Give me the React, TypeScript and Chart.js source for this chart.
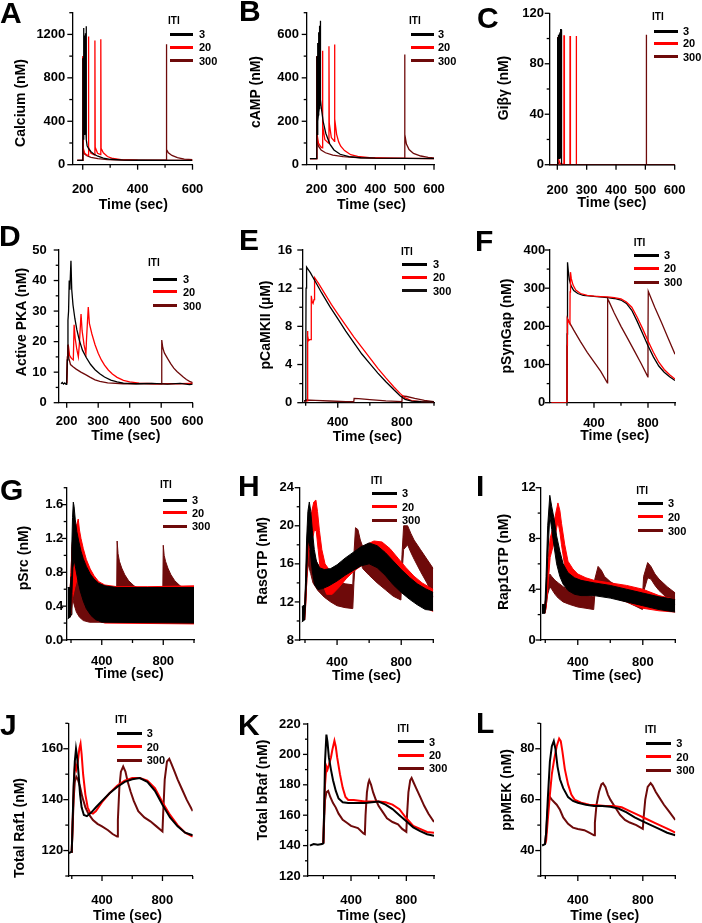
import React, { useEffect, useRef } from 'react';
import { Chart, registerables } from 'chart.js';
Chart.register(...registerables);

type Pt = [number, number];

const C3 = '#000000';
const C20 = '#ff0000';
const C300 = '#6e0a0a';
const FONT = '"Liberation Sans", Arial, Helvetica, sans-serif';

const itiLabels = ['3', '20', '300'];

// ---------- tick values / labels ----------
const timeTicksShort = [200, 300, 400, 500, 600];
const timeLabelsA = [200, 400, 600];
const timeLabelsShort = [200, 300, 400, 500, 600];
const timeTicksLong = [200, 400, 600, 800, 1000];
const timeLabelsLong = [400, 800];

const calciumTicks = [0, 200, 400, 600, 800, 1000, 1200, 1400];
const calciumLabels = [0, 400, 800, 1200];
const campTicks = [0, 100, 200, 300, 400, 500, 600, 700];
const campLabels = [0, 200, 400, 600];
const giTicks = [0, 20, 40, 60, 80, 100, 120];
const giLabels = [0, 40, 80, 120];
const pkaTicks = [0, 5, 10, 15, 20, 25, 30, 35, 40, 45, 50];
const pkaLabels = [0, 10, 20, 30, 40, 50];
const camkTicks = [0, 2, 4, 6, 8, 10, 12, 14, 16];
const camkLabels = [0, 4, 8, 12, 16];
const synGapTicks = [0, 50, 100, 150, 200, 250, 300, 350, 400];
const synGapLabels = [0, 100, 200, 300, 400];
const srcTicks = [0, 0.2, 0.4, 0.6, 0.8, 1.0, 1.2, 1.4, 1.6, 1.8];
const srcLabels = [0, 0.4, 0.8, 1.2, 1.6];
const rasTicks = [8, 10, 12, 14, 16, 18, 20, 22, 24];
const rasLabels = [8, 12, 16, 20, 24];
const rap1Ticks = [0, 2, 4, 6, 8, 10, 12];
const rap1Labels = [0, 4, 8, 12];
const raf1Ticks = [110, 120, 130, 140, 150, 160, 170];
const raf1Labels = [120, 140, 160];
const brafTicks = [120, 130, 140, 150, 160, 170, 180, 190, 200, 210, 220];
const brafLabels = [120, 140, 160, 180, 200, 220];
const mekTicks = [30, 40, 50, 60, 70, 80, 90];
const mekLabels = [40, 60, 80];

// ---------- A: Calcium ----------
const calcium3: Pt[] = [[180,40],[200,40],[200.4,980],[201.5,260],[203,230],[203.4,1260],[204.5,300],[206,280],[206.4,1190],[207.5,300],[209,290],[209.4,1210],[210.5,300],[212,280],[212.4,1275],[213.5,230],[216,175],[222,145],[230,120],[240,98],[255,78],[275,60],[300,50],[350,43],[400,41],[600,40]];
const calcium20: Pt[] = [[180,40],[200,40],[200.4,1000],[201.5,160],[206,110],[214,90],[220.5,85],[220.9,1180],[222,160],[230,105],[244,88],[244.4,1145],[245.5,160],[254,105],[265.5,92],[265.9,1155],[267,150],[275,110],[290,75],[310,57],[340,47],[400,42],[600,40]];
const calcium300: Pt[] = [[180,40],[200,40],[200.4,1000],[201.5,140],[206,100],[215,82],[230,68],[255,55],[290,47],[350,43],[420,41],[504.5,41],[504.9,1110],[506,140],[512,110],[525,85],[545,65],[570,52],[600,46]];

// ---------- B: cAMP ----------
const camp3: Pt[] = [[177,28],[200,28],[200.4,500],[201.5,140],[203,180],[203.4,560],[204.5,200],[206,230],[206.4,610],[207.5,240],[209,260],[209.4,640],[210.5,270],[212,280],[212.4,663],[213.5,300],[216,260],[222,200],[231,145],[245,95],[259,68],[280,48],[310,37],[350,32],[400,30],[500,29],[600,28]];
const camp20: Pt[] = [[177,28],[200,28],[200.4,500],[201.5,140],[206,100],[214,82],[219.5,78],[219.9,525],[221,180],[228,115],[241.5,98],[241.9,545],[243,190],[250,125],[260.5,108],[260.9,553],[262,210],[268,140],[275,105],[282,85],[295,65],[316,46],[340,38],[380,32],[450,30],[600,28]];
const camp300: Pt[] = [[177,28],[200,28],[200.4,500],[201.5,120],[206,85],[215,68],[230,55],[255,44],[290,37],[350,32],[420,30],[499.5,29],[499.9,508],[501,140],[506,95],[515,70],[530,52],[555,40],[580,34],[600,31]];

// ---------- C: Gibg ----------
const gi3: Pt[] = [[174,0],[200,0],[200.2,101],[201.3,101],[201.6,5],[203,5],[203.2,103],[204.3,103],[204.6,5],[206,5],[206.2,104],[207.3,104],[207.6,5],[209,5],[209.2,105],[210.3,105],[210.6,5],[212,5],[212.2,107],[213.3,107],[213.6,2],[215,0],[600,0]];
const gi20: Pt[] = [[174,0],[200,0],[200.2,101],[201.3,101],[201.6,5],[205,4],[209,1],[222.3,0],[222.5,102],[223.8,102],[224.1,0],[243,0],[243.2,102],[244.5,102],[244.8,0],[263.8,0],[264,102],[265.3,102],[265.6,0],[600,0]];
const gi300: Pt[] = [[174,0],[200,0],[200.2,101],[201.3,101],[201.6,3],[206,0],[502.5,0],[502.7,103],[504,103],[504.3,0],[600,0]];

// ---------- D: Active PKA ----------
const pka3: Pt[] = [[182,6.2],[186,6.6],[190,6.1],[194,6.5],[198,6.0],[200,6.4],[202,14],[204,27],[206,30],[208,40],[210,37],[213.5,46.5],[216,37],[220,32],[226,27.5],[232,24],[240,20.5],[250,17.2],[262,14.8],[276,12.5],[290,10.8],[305,9.5],[320,8.4],[340,7.4],[360,6.8],[380,6.4],[420,6.2],[470,6.3],[520,6.1],[560,6.3],[590,5.9],[600,6.1]];
const pka20: Pt[] = [[200,6.3],[202,13],[205,19],[209,15.5],[215,14.5],[221,14],[223.5,25.5],[227,21],[232,17.5],[237,15],[240,19],[245.5,29],[249,23.5],[255,19],[261,16],[263,21],[268.5,31.3],[272,26],[280,22.5],[290,19],[300,16.2],[310,14],[320,12.3],[332,10.7],[345,9.4],[360,8.3],[380,7.3],[400,6.8],[430,6.4],[480,6.2],[550,6.2],[600,6.3]];
const pka300: Pt[] = [[200,6.3],[202,15],[204,19],[207,14.5],[212,12.5],[220,11.8],[230,11],[245,10],[260,9.2],[275,8.3],[290,7.5],[305,7],[330,6.5],[380,6.2],[500,6.2],[501,12],[502.5,20.5],[505,18],[510,16.3],[520,14.5],[530,12.8],[540,11.3],[550,10.2],[560,9.3],[570,8.4],[580,7.6],[590,7],[600,6.6]];

// ---------- E: pCaMKII ----------
const camk3: Pt[] = [[190,0.2],[200,0.2],[201,6],[202.5,12],[204.5,13.8],[207,14.2],[230,13.6],[260,12.7],[300,11.5],[350,10.1],[400,8.8],[450,7.5],[500,6.3],[550,5.1],[600,4.1],[650,3.1],[700,2.2],[750,1.35],[790,0.7],[820,0.35],[860,0.16],[920,0.1],[1000,0.08]];
const camk20: Pt[] = [[190,0.2],[210,0.2],[211,7.5],[214,7.0],[218,6.5],[224,6.6],[234,6.6],[235,11.2],[240,10.6],[246,10.4],[252,10.8],[253,12.6],[258,13.1],[280,12.5],[320,11.4],[360,10.3],[400,9.3],[450,8.1],[500,6.9],[550,5.8],[600,4.7],[650,3.6],[700,2.6],[750,1.65],[790,0.95],[820,0.5],[860,0.22],[920,0.12],[1000,0.08]];
const camk300: Pt[] = [[190,0.2],[200,0.2],[202,0.28],[260,0.25],[350,0.18],[450,0.12],[500,0.1],[502,0.45],[530,0.42],[600,0.33],[700,0.2],[800,0.12],[802,0.7],[830,0.65],[880,0.45],[940,0.25],[1000,0.12]];

// ---------- F: pSynGap ----------
const synGap3: Pt[] = [[84,0],[200,0],[201,180],[203,330],[205,368],[210,345],[218,322],[230,306],[250,294],[280,286],[320,281],[380,279],[440,277],[500,275],[550,273],[600,269],[640,260],[680,242],[720,213],[760,181],[800,149],[840,120],[880,96],[920,80],[960,68],[1000,58]];
const synGap20: Pt[] = [[84,0],[200,0],[201,150],[203,220],[212,212],[222,206],[223,290],[226,342],[232,325],[245,308],[265,295],[300,286],[350,281],[400,279],[450,278],[500,277],[550,275],[600,272],[640,264],[680,250],[720,224],[760,194],[800,162],[840,132],[880,106],[920,87],[960,73],[1000,62]];
const synGap300: Pt[] = [[84,0],[200,0],[201,150],[203,220],[250,190],[300,160],[350,132],[400,107],[450,82],[499,52],[500,150],[502,272],[510,266],[550,235],[600,200],[650,168],[700,135],[750,102],[799,68],[800,180],[802,292],[810,285],[850,250],[900,210],[950,168],[1000,127]];

// ---------- G: pSrc (noise envelopes) ----------
const src3Hi: Pt[] = [[178,0.62],[195,0.62],[200,0.75],[205,1.1],[210,1.45],[215,1.63],[220,1.58],[228,1.42],[238,1.28],[250,1.17],[265,1.05],[280,0.96],[300,0.87],[325,0.78],[350,0.72],[380,0.67],[420,0.64],[500,0.62],[1000,0.62]];
const src3Lo: Pt[] = [[178,0.25],[195,0.27],[200,0.3],[206,0.55],[212,0.85],[220,0.95],[230,0.85],[245,0.7],[260,0.58],[280,0.46],[300,0.37],[330,0.29],[360,0.24],[400,0.21],[1000,0.2]];
const src20Hi: Pt[] = [[195,0.62],[200,0.8],[208,1.15],[218,1.25],[230,1.33],[240,1.38],[247,1.43],[255,1.3],[265,1.2],[280,1.08],[300,0.95],[325,0.84],[350,0.76],[380,0.69],[420,0.65],[500,0.63],[700,0.63],[1000,0.64]];
const src20Lo: Pt[] = [[195,0.27],[200,0.3],[210,0.5],[225,0.62],[240,0.72],[255,0.7],[270,0.6],[290,0.48],[310,0.38],[340,0.29],[370,0.23],[420,0.2],[1000,0.19]];
const src300Hi: Pt[] = [[195,0.62],[200,0.8],[207,1.1],[213,1.2],[220,1.05],[230,0.92],[245,0.8],[265,0.7],[290,0.62],[330,0.57],[497,0.56],[500,1.17],[506,1.02],[515,0.93],[530,0.85],[550,0.77],[575,0.7],[610,0.64],[660,0.59],[797,0.57],[800,1.12],[806,1.0],[815,0.93],[830,0.85],[850,0.77],[875,0.7],[910,0.64],[960,0.6],[1000,0.6]];
const src300Lo: Pt[] = [[195,0.27],[200,0.3],[210,0.5],[220,0.42],[235,0.33],[255,0.27],[280,0.23],[320,0.21],[497,0.21],[501,0.45],[515,0.5],[535,0.42],[560,0.33],[600,0.27],[650,0.22],[797,0.21],[801,0.45],[815,0.5],[835,0.42],[860,0.33],[900,0.27],[950,0.22],[1000,0.21]];

// ---------- H: RasGTP (noise envelopes) ----------
const ras3Hi: Pt[] = [[180,11.5],[198,11.7],[203,14],[210,18.5],[218,21.5],[227,22.5],[236,21.5],[246,19.5],[258,17.5],[272,16.2],[290,15.6],[320,15.4],[360,15.5],[400,15.9],[450,16.6],[500,17.2],[550,17.8],[600,18.2],[650,17.9],[700,17.2],[750,16.3],[800,15.4],[850,14.6],[900,13.9],[950,13.4],[1000,13]];
const ras3Lo: Pt[] = [[180,9.9],[198,10.1],[204,12],[212,15.5],[220,18.5],[230,17.8],[245,15.3],[260,13.8],[280,13.3],[310,13.4],[350,13.7],[400,14.2],[450,14.8],[500,15.3],[550,15.8],[600,16],[650,15.6],[700,14.8],[750,13.8],[800,13],[850,12.3],[900,11.7],[950,11.2],[1000,11.1]];
const ras20Hi: Pt[] = [[198,11.7],[204,13.5],[212,17.5],[222,20.5],[232,20],[242,21.5],[255,22.5],[268,22.7],[278,21.5],[290,19.5],[305,17.5],[325,16],[350,15.4],[390,15.4],[430,15.9],[480,16.7],[530,17.4],[580,18],[630,18.4],[680,18.3],[730,17.6],[780,16.6],[830,15.6],[880,14.7],[930,14],[970,13.6],[1000,13.3]];
const ras20Lo: Pt[] = [[198,10.1],[204,11.5],[212,14.5],[222,17.5],[232,17.5],[245,18.5],[258,19.5],[270,19.5],[282,17.5],[295,15.5],[312,13.8],[335,12.8],[370,12.8],[410,13.5],[460,14.5],[510,15.3],[560,15.9],[610,16.3],[660,16.3],[710,15.6],[760,14.6],[810,13.6],[860,12.7],[910,12],[960,11.3],[1000,11]];
const ras300Hi: Pt[] = [[198,11.7],[205,14],[212,18],[218,20],[225,19],[235,17.5],[250,17],[280,16],[320,15],[360,14.6],[400,14.2],[450,13.9],[498,13.8],[505,17],[515,19.8],[530,19.6],[545,18.5],[560,17.8],[600,17],[650,16.2],[700,15.5],[750,14.8],[798,14.2],[805,17],[815,20],[840,20],[860,19.2],[880,18.5],[920,17.5],[960,16.5],[1000,15.5]];
const ras300Lo: Pt[] = [[198,10.1],[205,12],[212,14.5],[220,16],[235,15],[250,14],[280,13.2],[320,12.5],[360,12],[400,11.6],[450,11.4],[498,11.3],[505,14],[515,16.5],[530,17],[545,16.2],[560,15.5],[600,14.8],[650,14],[700,13.3],[750,12.6],[798,12.2],[805,15],[815,17.5],[840,18],[860,17.2],[880,16.5],[920,15.2],[960,14],[1000,12.5]];

// ---------- I: Rap1GTP (noise envelopes) ----------
const rap3Hi: Pt[] = [[180,2.8],[198,2.8],[205,5],[215,9],[228,11.4],[240,10.5],[255,9.5],[270,8.2],[290,7],[310,6],[340,5.3],[380,4.9],[420,4.7],[500,4.5],[600,4.3],[700,4],[800,3.7],[900,3.4],[1000,3.2]];
const rap3Lo: Pt[] = [[180,2.1],[198,2.1],[205,3],[215,6.5],[228,9.8],[240,8.7],[255,7.3],[270,6],[290,5],[310,4.4],[340,3.9],[380,3.6],[420,3.5],[500,3.5],[600,3.3],[700,3],[800,2.7],[900,2.4],[1000,2.2]];
const rap20Hi: Pt[] = [[198,2.8],[205,3.5],[215,6],[230,8],[250,9],[265,10],[278,10.8],[290,10.2],[300,9.2],[320,7.5],[340,6.2],[370,5.6],[400,5.2],[450,4.9],[500,4.7],[600,4.5],[700,4.3],[800,4],[900,3.5],[1000,3.2]];
const rap20Lo: Pt[] = [[198,2.1],[205,2.5],[215,4],[230,6.5],[250,7.5],[265,8.5],[278,9.3],[290,8.5],[300,7.5],[320,5.8],[340,4.9],[370,4.4],[400,4.1],[450,3.9],[500,3.7],[600,3.4],[700,3],[800,2.5],[900,2.3],[1000,2.2]];
const rap300Hi: Pt[] = [[198,2.8],[205,3.5],[215,4.6],[228,5.2],[240,5],[260,4.7],[280,4.5],[310,4.2],[350,3.9],[400,3.7],[450,3.5],[498,3.4],[505,4.8],[525,5.8],[545,5.5],[565,5],[600,4.6],[650,4.2],[700,3.9],[750,3.6],[798,3.4],[805,5],[830,6.1],[850,5.8],[875,5.2],[900,4.8],[950,4.2],[1000,3.7]];
const rap300Lo: Pt[] = [[198,2.1],[205,2.6],[215,3.6],[228,4.2],[240,4],[260,3.6],[280,3.3],[310,3.0],[350,2.8],[400,2.6],[450,2.5],[498,2.4],[505,3.6],[525,4.6],[545,4.5],[565,4.1],[600,3.7],[650,3.3],[700,3],[750,2.7],[798,2.4],[805,3.8],[830,4.9],[850,4.8],[875,4.3],[900,3.9],[950,3.3],[1000,2.8]];

// ---------- J: Total Raf1 ----------
const raf3: Pt[] = [[180,119],[198,119.5],[200,120],[205,130],[212,145],[220,155],[228,160],[235,157],[245,150],[255,142],[265,137],[280,134],[300,133.5],[330,135],[360,137],[400,139.5],[450,142.5],[500,145],[550,147],[600,148],[650,148.5],[700,147],[750,143.5],[800,138],[850,133],[900,129.5],[950,127],[1000,126]];
const raf20: Pt[] = [[198,119.5],[200,120],[205,130],[215,148],[222,154],[230,152],[240,155],[250,160],[258,162],[265,158],[275,150],[290,142],[305,137],[320,135],[340,134.5],[360,135.5],[400,139],[450,142.5],[500,145.5],[550,147.5],[600,148.5],[650,148.5],[700,147.5],[750,144.5],[800,139],[850,134],[900,130],[950,127],[1000,125.5]];
const raf300: Pt[] = [[198,119.5],[200,120],[205,128],[212,140],[220,147],[230,149],[240,148],[255,145],[270,141],[290,137],[310,134.5],[340,132],[370,130.5],[400,129.5],[440,128],[470,126.5],[500,125.5],[505,132],[515,145],[525,151],[540,153],[555,151],[570,147],[590,143],[610,139.5],[640,135.5],[680,133],[720,131.5],[760,129.5],[800,127.5],[805,135],[815,148],[830,155],[845,156],[860,154],[880,151],[900,148],[930,144],[960,140],[1000,135.5]];

// ---------- K: Total bRaf ----------
const braf3: Pt[] = [[103,140],[130,141],[160,140.5],[190,141],[200,141.5],[205,160],[212,195],[222,213],[230,208],[240,198],[255,190],[270,183],[290,176],[310,171],[340,168.5],[380,168],[420,168],[460,168],[500,168],[550,168.5],[600,169],[650,167],[700,164],[750,160],[800,156],[850,152],[900,149.5],[950,147.5],[1000,146.5]];
const braf20: Pt[] = [[200,141.5],[205,160],[212,180],[222,192],[230,190],[240,193],[255,198],[265,203],[280,209],[290,205],[300,198],[320,187],[340,178],[360,172],[380,170],[420,170],[460,169.5],[500,169],[550,169],[600,169],[650,168.5],[700,167],[750,164],[800,158],[850,153],[900,151],[950,149],[1000,148.5]];
const braf300: Pt[] = [[200,141.5],[205,155],[212,170],[222,175],[235,176],[250,172],[270,168],[290,165],[310,161],[340,157],[370,155],[400,153],[450,151.5],[490,148],[500,147.5],[505,160],[515,175],[525,181],[532,183],[545,180],[560,175],[580,170],[600,166],[630,162],[660,158],[700,155.5],[740,154],[770,151],[800,149],[805,160],[815,175],[828,183],[838,184.5],[850,182],[870,178],[900,172],[930,166],[960,161],[1000,155.5]];

// ---------- L: ppMEK ----------
const mek3: Pt[] = [[180,42],[198,42.5],[205,47],[215,60],[228,75],[240,81],[252,83],[262,80],[275,73],[290,68],[310,64.5],[340,61],[370,59.5],[400,58.8],[450,58],[500,57.5],[550,57.5],[600,57.2],[650,56.5],[700,55],[750,53],[800,51.5],[850,50],[900,48.5],[950,47],[1000,46]];
const mek20: Pt[] = [[198,42.5],[205,44],[215,52],[228,62],[240,70],[255,76],[270,81],[285,84],[295,83],[305,79],[320,72],[340,66],[360,62],[380,60],[420,58.8],[470,58],[520,57.8],[570,57.5],[620,57.5],[670,57],[720,55.5],[770,54],[820,52.5],[870,51],[920,49.5],[970,48],[1000,47]];
const mek300: Pt[] = [[198,42.5],[205,47],[212,54],[220,59],[228,61],[240,60],[255,59],[270,58],[290,56],[310,53],[340,50.5],[370,49],[400,48.5],[440,48],[470,47],[500,46],[505,51],[515,58],[530,63],[545,66],[555,66.5],[570,65],[585,62],[600,60],[630,57],[660,54],[690,52],[720,51],[760,50],[800,48.5],[805,53],[815,60],[830,65],[848,66.5],[860,65.5],[880,63],[900,61],[930,58],[960,55.5],[1000,52]];

// ---------- panel configuration ----------
interface Series { d?: Pt[]; hi?: Pt[]; lo?: Pt[]; c: string; }
interface LegendCfg { iti: [number, number]; x1: number; x2: number; rows: number[]; lx: number; colors?: string[]; }
interface PanelCfg {
  letter: string; letterX: number; letterBase: number;
  cx: number; cy: number; h: number;
  area: [number, number, number, number];
  xMin: number; xMax: number; xTicks: number[]; xLabels: number[];
  yMin: number; yMax: number; yTicks: number[]; yLabels: number[]; yDec: number;
  yTitle: string; yTitlePos: [number, number]; xTitlePos: [number, number];
  xPad: number; yPad: number; lw: number;
  series: Series[]; legend: LegendCfg;
  xBorder?: { color: string; width: number };
}

const panels: PanelCfg[] = [
  { letter: 'A', letterX: 0, letterBase: 23.3, cx: 0, cy: 0, h: 220, area: [72.3, 12.7, 192.5, 164.7],
    xMin: 162, xMax: 600, xTicks: timeTicksShort, xLabels: timeLabelsA,
    yMin: 0, yMax: 1400, yTicks: calciumTicks, yLabels: calciumLabels, yDec: 0,
    yTitle: 'Calcium (nM)', yTitlePos: [19.5, 103], xTitlePos: [133.3, 204], xPad: 16.5, yPad: 7, lw: 1.3,
    series: [{ d: calcium3, c: C3 }, { d: calcium20, c: C20 }, { d: calcium300, c: C300 }],
    legend: { iti: [168, 21], x1: 170, x2: 193, rows: [34.3, 47.3, 60.7], lx: 199 } },
  { letter: 'B', letterX: 239, letterBase: 21.7, cx: 234, cy: 0, h: 220, area: [306.7, 12.7, 434, 164.7],
    xMin: 166, xMax: 600, xTicks: timeTicksShort, xLabels: timeLabelsShort,
    yMin: 0, yMax: 700, yTicks: campTicks, yLabels: campLabels, yDec: 0,
    yTitle: 'cAMP (nM)', yTitlePos: [254.8, 91.7], xTitlePos: [371.5, 204], xPad: 16.5, yPad: 7.7, lw: 1.3,
    series: [{ d: camp3, c: C3 }, { d: camp20, c: C20 }, { d: camp300, c: C300 }],
    legend: { iti: [409, 21], x1: 411, x2: 434, rows: [34.3, 47.3, 60.7], lx: 438 } },
  { letter: 'C', letterX: 477, letterBase: 28.3, cx: 468, cy: 0, h: 220, area: [549.7, 13.3, 674.7, 164.7],
    xMin: 174, xMax: 600, xTicks: timeTicksShort, xLabels: timeLabelsShort,
    yMin: 0, yMax: 120, yTicks: giTicks, yLabels: giLabels, yDec: 0,
    yTitle: 'Giβγ (nM)', yTitlePos: [503, 87.5], xTitlePos: [612, 201.7], xPad: 18, yPad: 5.7, lw: 1.3,
    series: [{ d: gi3, c: C3 }, { d: gi20, c: C20 }, { d: gi300, c: C300 }],
    legend: { iti: [652, 17.3], x1: 654, x2: 678, rows: [31, 43.3, 56.7], lx: 683 },
    xBorder: { color: '#6a6a6a', width: 2 } },
  { letter: 'D', letterX: -1, letterBase: 246.7, cx: 0, cy: 220, h: 230, area: [58.7, 250, 192.7, 402.7],
    xMin: 174.6, xMax: 600, xTicks: timeTicksShort, xLabels: timeLabelsShort,
    yMin: 0, yMax: 50, yTicks: pkaTicks, yLabels: pkaLabels, yDec: 0,
    yTitle: 'Active PKA (nM)', yTitlePos: [20.8, 321.7], xTitlePos: [125.8, 435], xPad: 11.2, yPad: 12, lw: 1.3,
    series: [{ d: pka3, c: C3 }, { d: pka20, c: C20 }, { d: pka300, c: C300 }],
    legend: { iti: [148, 263.3], x1: 153, x2: 177, rows: [279.3, 291.7, 305.7], lx: 183 } },
  { letter: 'E', letterX: 239, letterBase: 250, cx: 234, cy: 220, h: 230, area: [302.3, 250, 434, 402.7],
    xMin: 179, xMax: 1000, xTicks: timeTicksLong, xLabels: timeLabelsLong,
    yMin: 0, yMax: 16, yTicks: camkTicks, yLabels: camkLabels, yDec: 0,
    yTitle: 'pCaMKII (µM)', yTitlePos: [264.8, 325], xTitlePos: [367.3, 435.7], xPad: 12, yPad: 10, lw: 1.3,
    series: [{ d: camk3, c: C3 }, { d: camk20, c: C20 }, { d: camk300, c: C300 }],
    legend: { iti: [401, 251.7], x1: 402, x2: 427, rows: [264.3, 277.3, 290.7], lx: 433, colors: [C3, C20, '#141010'] } },
  { letter: 'F', letterX: 475, letterBase: 251.7, cx: 468, cy: 220, h: 230, area: [549.7, 250, 675, 402.7],
    xMin: 72, xMax: 1000, xTicks: timeTicksLong, xLabels: timeLabelsLong,
    yMin: 0, yMax: 400, yTicks: synGapTicks, yLabels: synGapLabels, yDec: 0,
    yTitle: 'pSynGap (nM)', yTitlePos: [505.5, 325.8], xTitlePos: [614.7, 435], xPad: 12.5, yPad: 4.4, lw: 1.3,
    series: [{ d: synGap20, c: C20 }, { d: synGap3, c: C3 }, { d: synGap300, c: C300 }],
    legend: { iti: [633.7, 242.7], x1: 634, x2: 659, rows: [255, 268.3, 282], lx: 664 } },
  { letter: 'G', letterX: 0, letterBase: 500, cx: 0, cy: 450, h: 240, area: [66.7, 487.7, 194, 640],
    xMin: 172, xMax: 1000, xTicks: timeTicksLong, xLabels: timeLabelsLong,
    yMin: 0, yMax: 1.8, yTicks: srcTicks, yLabels: srcLabels, yDec: 1,
    yTitle: 'pSrc (nM)', yTitlePos: [22.5, 558], xTitlePos: [129.2, 673], xPad: 14, yPad: 3.4, lw: 1,
    series: [{ hi: src3Hi, lo: src3Lo, c: C3 }, { hi: src20Hi, lo: src20Lo, c: C20 }, { hi: src300Hi, lo: src300Lo, c: C300 }],
    legend: { iti: [160, 485], x1: 162.7, x2: 186.7, rows: [500, 512.7, 526], lx: 192 } },
  { letter: 'H', letterX: 238, letterBase: 496.7, cx: 234, cy: 450, h: 240, area: [299.7, 487.7, 433.3, 640],
    xMin: 167, xMax: 1000, xTicks: timeTicksLong, xLabels: timeLabelsLong,
    yMin: 8, yMax: 24, yTicks: rasTicks, yLabels: rasLabels, yDec: 0,
    yTitle: 'RasGTP (nM)', yTitlePos: [261.5, 561], xTitlePos: [366.5, 675], xPad: 14.7, yPad: 5.7, lw: 1,
    series: [{ hi: ras3Hi, lo: ras3Lo, c: C3 }, { hi: ras20Hi, lo: ras20Lo, c: C20 }, { hi: ras300Hi, lo: ras300Lo, c: C300 }],
    legend: { iti: [370.7, 480.7], x1: 372, x2: 397, rows: [493.3, 506.7, 520], lx: 402 } },
  { letter: 'I', letterX: 476, letterBase: 496.7, cx: 468, cy: 450, h: 240, area: [540.7, 487.7, 675.3, 640],
    xMin: 172, xMax: 1000, xTicks: timeTicksLong, xLabels: timeLabelsLong,
    yMin: 0, yMax: 12, yTicks: rap1Ticks, yLabels: rap1Labels, yDec: 0,
    yTitle: 'Rap1GTP (nM)', yTitlePos: [503, 561.7], xTitlePos: [607, 675], xPad: 14.7, yPad: 5, lw: 1,
    series: [{ hi: rap3Hi, lo: rap3Lo, c: C3 }, { hi: rap20Hi, lo: rap20Lo, c: C20 }, { hi: rap300Hi, lo: rap300Lo, c: C300 }],
    legend: { iti: [636.3, 490.7], x1: 638, x2: 663, rows: [503.3, 516.7, 530.7], lx: 668 } },
  { letter: 'J', letterX: 0, letterBase: 735, cx: 0, cy: 690, h: 233, area: [68.3, 723.3, 192.7, 876],
    xMin: 177, xMax: 1000, xTicks: timeTicksLong, xLabels: timeLabelsLong,
    yMin: 110, yMax: 170, yTicks: raf1Ticks, yLabels: raf1Labels, yDec: 0,
    yTitle: 'Total Raf1 (nM)', yTitlePos: [19.2, 828], xTitlePos: [127.5, 915], xPad: 16.2, yPad: 5, lw: 2,
    series: [{ d: raf3, c: C3 }, { d: raf20, c: C20 }, { d: raf300, c: C300 }],
    legend: { iti: [115, 720], x1: 116.7, x2: 141.7, rows: [733.3, 746.7, 760], lx: 146.7 } },
  { letter: 'K', letterX: 238, letterBase: 735, cx: 234, cy: 690, h: 233, area: [308, 724, 434, 876],
    xMin: 89, xMax: 1000, xTicks: timeTicksLong, xLabels: timeLabelsLong,
    yMin: 120, yMax: 220, yTicks: brafTicks, yLabels: brafLabels, yDec: 0,
    yTitle: 'Total bRaf (nM)', yTitlePos: [261.5, 790], xTitlePos: [371.5, 915], xPad: 16.2, yPad: 7.3, lw: 2,
    series: [{ d: braf3, c: C3 }, { d: braf20, c: C20 }, { d: braf300, c: C300 }],
    legend: { iti: [397.3, 729], x1: 398, x2: 424, rows: [741.7, 755, 768.3], lx: 429 } },
  { letter: 'L', letterX: 476, letterBase: 733.3, cx: 468, cy: 690, h: 233, area: [540.3, 723.3, 675.3, 876],
    xMin: 169, xMax: 1000, xTicks: timeTicksLong, xLabels: timeLabelsLong,
    yMin: 30, yMax: 90, yTicks: mekTicks, yLabels: mekLabels, yDec: 0,
    yTitle: 'ppMEK (nM)', yTitlePos: [505.5, 790], xTitlePos: [604.7, 915], xPad: 16.2, yPad: 5.7, lw: 2,
    series: [{ d: mek3, c: C3 }, { d: mek20, c: C20 }, { d: mek300, c: C300 }],
    legend: { iti: [644.7, 730], x1: 646.3, x2: 671.3, rows: [743.3, 756.7, 770], lx: 676.3 } },
];

const PANEL_W = 234;

const toXY = (pts: Pt[]) => pts.map(([x, y]) => ({ x, y }));
const inList = (v: number, list: number[]) => list.some((l) => Math.abs(l - v) < 1e-6);

const tickMarks = {
  id: 'tickMarks',
  afterDraw(chart: any) {
    const ctx = chart.ctx;
    const area = chart.chartArea;
    const xs = chart.scales.x;
    const ys = chart.scales.y;
    ctx.save();
    ctx.strokeStyle = '#000';
    ctx.lineWidth = 1.3;
    xs.ticks.forEach((t: any) => {
      const p = xs.getPixelForValue(t.value);
      const len = t.label !== '' ? 5 : 3;
      ctx.beginPath();
      ctx.moveTo(p, area.bottom);
      ctx.lineTo(p, area.bottom + len);
      ctx.stroke();
    });
    ys.ticks.forEach((t: any) => {
      const p = ys.getPixelForValue(t.value);
      const len = t.label !== '' ? 5 : 3;
      ctx.beginPath();
      ctx.moveTo(area.left - len, p);
      ctx.lineTo(area.left, p);
      ctx.stroke();
    });
    ctx.restore();
  },
};

function buildDatasets(p: PanelCfg) {
  const ds: any[] = [];
  p.series.forEach((s) => {
    if (s.hi && s.lo) {
      ds.push({ data: toXY(s.hi), borderColor: s.c, backgroundColor: s.c, borderWidth: p.lw, fill: '+1', pointRadius: 0 });
      ds.push({ data: toXY(s.lo), borderColor: s.c, borderWidth: p.lw, fill: false, pointRadius: 0 });
    } else if (s.d) {
      ds.push({ data: toXY(s.d), borderColor: s.c, borderWidth: p.lw, fill: false, pointRadius: 0 });
    }
  });
  return ds;
}

function ChartPanel({ p }: { p: PanelCfg }) {
  const ref = useRef<HTMLCanvasElement>(null);
  useEffect(() => {
    const canvas = ref.current;
    if (!canvas) return;
    const [l, t, r, b] = p.area;
    const tickFont = { family: FONT, size: 13, weight: 'bold' as const };
    const chart = new Chart(canvas, {
      type: 'line',
      data: { datasets: buildDatasets(p) },
      options: {
        responsive: false,
        maintainAspectRatio: false,
        animation: false,
        events: [],
        layout: { padding: { left: 0, top: t - p.cy, right: p.cx + PANEL_W - r, bottom: 0 } },
        plugins: { legend: { display: false }, tooltip: { enabled: false }, title: { display: false } },
        elements: { point: { radius: 0 }, line: { tension: 0 } },
        scales: {
          x: {
            type: 'linear',
            bounds: 'data',
            min: p.xMin,
            max: p.xMax,
            afterFit: (s: any) => { s.height = p.cy + p.h - b; s.paddingLeft = 0; s.paddingRight = 0; },
            afterBuildTicks: (s: any) => { s.ticks = p.xTicks.map((v) => ({ value: v })); },
            ticks: {
              autoSkip: false, maxRotation: 0, padding: p.xPad, color: '#000', font: tickFont,
              callback: (v: any) => (inList(Number(v), p.xLabels) ? String(v) : ''),
            },
            grid: { drawOnChartArea: false, drawTicks: false },
            border: { display: true, color: p.xBorder ? p.xBorder.color : '#000', width: p.xBorder ? p.xBorder.width : 1.3 },
          },
          y: {
            type: 'linear',
            bounds: 'data',
            min: p.yMin,
            max: p.yMax,
            afterFit: (s: any) => { s.width = l - p.cx; s.paddingTop = 0; s.paddingBottom = 0; },
            afterBuildTicks: (s: any) => { s.ticks = p.yTicks.map((v) => ({ value: v })); },
            ticks: {
              autoSkip: false, padding: p.yPad, color: '#000', font: tickFont,
              callback: (v: any) => (inList(Number(v), p.yLabels) ? Number(v).toFixed(p.yDec) : ''),
            },
            grid: { drawOnChartArea: false, drawTicks: false },
            border: { display: true, color: '#000', width: 1.3 },
          },
        },
      } as any,
      plugins: [tickMarks],
    });
    return () => chart.destroy();
  }, [p]);
  return (
    <canvas
      ref={ref}
      width={PANEL_W}
      height={p.h}
      style={{ position: 'absolute', left: p.cx, top: p.cy, width: PANEL_W, height: p.h }}
    />
  );
}

function Txt(props: { x: number; y: number; size: number; anchor?: 'center' | 'left'; rotate?: boolean; children: React.ReactNode }) {
  const { x, y, size, anchor = 'center', rotate = false, children } = props;
  let tf = anchor === 'center' ? 'translate(-50%,-50%)' : 'translate(0,-50%)';
  if (rotate) tf += ' rotate(-90deg)';
  return (
    <div
      style={{
        position: 'absolute', left: x, top: y, fontFamily: FONT, fontWeight: 'bold', fontSize: size,
        lineHeight: `${size}px`, whiteSpace: 'nowrap', color: '#000', transform: tf,
      }}
    >
      {children}
    </div>
  );
}

function PanelDecor({ p }: { p: PanelCfg }) {
  const lg = p.legend;
  const colors = lg.colors || [C3, C20, C300];
  const LS = 30;
  return (
    <>
      <div
        style={{
          position: 'absolute', left: p.letterX, top: p.letterBase - 0.8465 * LS, fontFamily: FONT,
          fontWeight: 'bold', fontSize: LS, lineHeight: `${LS}px`, color: '#000',
        }}
      >
        {p.letter}
      </div>
      <Txt x={p.yTitlePos[0]} y={p.yTitlePos[1]} size={14} rotate>
        {p.yTitle}
      </Txt>
      <Txt x={p.xTitlePos[0]} y={p.xTitlePos[1]} size={14}>
        Time (sec)
      </Txt>
      <Txt x={lg.iti[0]} y={lg.iti[1]} size={10} anchor="left">
        ITI
      </Txt>
      {lg.rows.map((ry, i) => (
        <React.Fragment key={i}>
          <div
            style={{
              position: 'absolute', left: lg.x1, top: ry - 1.5, width: lg.x2 - lg.x1, height: 3, background: colors[i],
            }}
          />
          <Txt x={lg.lx} y={ry} size={11} anchor="left">
            {itiLabels[i]}
          </Txt>
        </React.Fragment>
      ))}
    </>
  );
}

export default function App() {
  return (
    <div
      style={{
        position: 'absolute', left: 0, top: 0, width: 702, height: 923, background: '#fff', overflow: 'hidden',
      }}
    >
      {panels.map((p) => (
        <React.Fragment key={p.letter}>
          <ChartPanel p={p} />
          <PanelDecor p={p} />
        </React.Fragment>
      ))}
    </div>
  );
}
